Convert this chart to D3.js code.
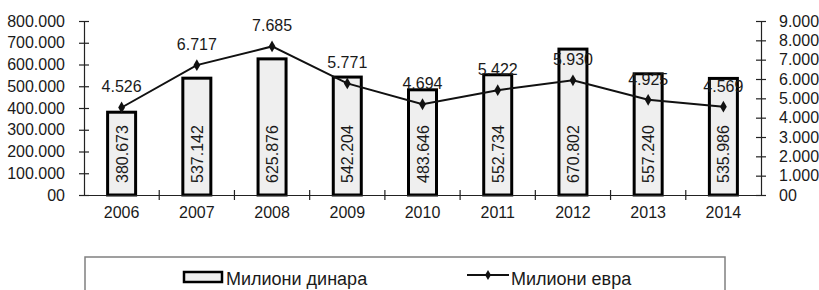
<!DOCTYPE html>
<html>
<head>
<meta charset="utf-8">
<script src="https://cdn.jsdelivr.net/npm/d3@7"></script>
<style>
  body { margin: 0; background: #fff; }
  text { font-family: "Liberation Sans", Arial, sans-serif; fill: #1a1a1a; }
</style>
</head>
<body>
<div id="container"></div>
<script>
var years = ["2006", "2007", "2008", "2009", "2010", "2011", "2012", "2013", "2014"];
var dinars = [380673, 537142, 625876, 542204, 483646, 552734, 670802, 557240, 535986];
var euros = [4526, 6717, 7685, 5771, 4694, 5422, 5930, 4925, 4569];
var leftTicks = [0, 100000, 200000, 300000, 400000, 500000, 600000, 700000, 800000];
var leftLabels = ["00", "100.000", "200.000", "300.000", "400.000", "500.000", "600.000", "700.000", "800.000"];
var rightTicks = [0, 1000, 2000, 3000, 4000, 5000, 6000, 7000, 8000, 9000];
var rightLabels = ["00", "1.000", "2.000", "3.000", "4.000", "5.000", "6.000", "7.000", "8.000", "9.000"];
var seriesNames = ["Милиони динара", "Милиони евра"];

var width = 819,
    height = 290,
    plotLeft = 84,
    plotRight = 761,
    plotTop = 21,
    plotBottom = 195

var fmt = d3.formatLocale({ decimal: ",", thousands: ".", grouping: [3], currency: ["", ""] }).format(",d");

var svg = d3.select("div#container").append("svg")
    .attr("width", width)
    .attr("height", height);

var x = d3.scaleBand().domain(years).range([plotLeft, plotRight]);
var yL = d3.scaleLinear().domain([0, 800000]).range([plotBottom, plotTop]);
var yR = d3.scaleLinear().domain([0, 9000]).range([plotBottom, plotTop]);

// bars
var barW = 28;
svg.selectAll(".bar")
    .data(dinars)
    .enter().append("rect")
    .attr("class", "bar")
    .attr("x", function (d, i) { return x(years[i]) + x.bandwidth() / 2 - barW / 2; })
    .attr("y", function (d) { return yL(d); })
    .attr("width", barW)
    .attr("height", function (d) { return plotBottom - yL(d); })
    .style("fill", "#efefef")
    .style("stroke", "#000")
    .style("stroke-width", 3);

// bar labels (rotated)
svg.selectAll(".barlabel")
    .data(dinars)
    .enter().append("text")
    .attr("class", "barlabel")
    .attr("transform", function (d, i) {
        return "translate(" + (x(years[i]) + x.bandwidth() / 2 + 6) + "," + (plotBottom - 12) + ") rotate(-90)";
    })
    .attr("text-anchor", "start")
    .style("font-size", "16px")
    .text(function (d) { return fmt(d); });

// axes
function crossTicks(g, len) {
    g.selectAll(".tick line").attr("x1", -len).attr("x2", len).attr("y1", 0).attr("y2", 0);
}

var axL = svg.append("g")
    .attr("transform", "translate(" + plotLeft + ",0)")
    .call(d3.axisLeft(yL).tickValues(leftTicks).tickFormat(function (d, i) { return leftLabels[i]; }).tickSizeOuter(0).tickPadding(13));
crossTicks(axL, 5);

var axR = svg.append("g")
    .attr("transform", "translate(" + plotRight + ",0)")
    .call(d3.axisRight(yR).tickValues(rightTicks).tickFormat(function (d, i) { return rightLabels[i]; }).tickSizeOuter(0).tickPadding(12));
crossTicks(axR, 5);

var axX = svg.append("g")
    .attr("transform", "translate(0," + plotBottom + ")")
    .call(d3.axisBottom(x).tickSize(0).tickPadding(12));
axX.selectAll(".tick line").remove();
axX.selectAll(".tick text").attr("dy", "0.71em");

// category boundary ticks
svg.selectAll(".btick")
    .data(years.slice(1))
    .enter().append("line")
    .attr("class", "btick")
    .attr("x1", function (d) { return x(d); })
    .attr("x2", function (d) { return x(d); })
    .attr("y1", plotBottom - 5)
    .attr("y2", plotBottom + 5)
    .style("stroke", "#222")
    .style("stroke-width", 1.2);

svg.selectAll(".domain, .tick line").style("stroke", "#222").style("stroke-width", 1.2);
svg.selectAll(".tick text").style("font-size", "16px").style("font-family", "'Liberation Sans', Arial, sans-serif").style("fill", "#1a1a1a");

// line
var line = d3.line()
    .x(function (d, i) { return x(years[i]) + x.bandwidth() / 2; })
    .y(function (d) { return yR(d); });

svg.append("path")
    .datum(euros)
    .attr("d", line)
    .style("fill", "none")
    .style("stroke", "#111")
    .style("stroke-width", 2);

svg.selectAll(".pt")
    .data(euros)
    .enter().append("path")
    .attr("class", "pt")
    .attr("d", d3.symbol().type(d3.symbolDiamond).size(40))
    .attr("transform", function (d, i) {
        return "translate(" + (x(years[i]) + x.bandwidth() / 2) + "," + yR(d) + ")";
    })
    .style("fill", "#111");

svg.selectAll(".ptlabel")
    .data(euros)
    .enter().append("text")
    .attr("class", "ptlabel")
    .attr("x", function (d, i) { return x(years[i]) + x.bandwidth() / 2; })
    .attr("y", function (d) { return yR(d) - 15; })
    .attr("text-anchor", "middle")
    .style("font-size", "16px")
    .text(function (d) { return fmt(d); });

// legend
var legend = svg.append("g");
legend.append("rect")
    .attr("x", 85)
    .attr("y", 257)
    .attr("width", 640)
    .attr("height", 50)
    .style("fill", "#fff")
    .style("stroke", "#808080")
    .style("stroke-width", 1.5);

legend.append("rect")
    .attr("x", 184)
    .attr("y", 272)
    .attr("width", 38)
    .attr("height", 10)
    .style("fill", "#efefef")
    .style("stroke", "#000")
    .style("stroke-width", 2.5);

legend.append("text")
    .attr("x", 226)
    .attr("y", 285)
    .style("font-size", "18px")
    .text(seriesNames[0]);

legend.append("line")
    .attr("x1", 467)
    .attr("x2", 509)
    .attr("y1", 275)
    .attr("y2", 275)
    .style("stroke", "#111")
    .style("stroke-width", 2);

legend.append("path")
    .attr("d", d3.symbol().type(d3.symbolDiamond).size(30))
    .attr("transform", "translate(488,275)")
    .style("fill", "#111");

legend.append("text")
    .attr("x", 511)
    .attr("y", 285)
    .style("font-size", "18px")
    .text(seriesNames[1]);
</script>
</body>
</html>
